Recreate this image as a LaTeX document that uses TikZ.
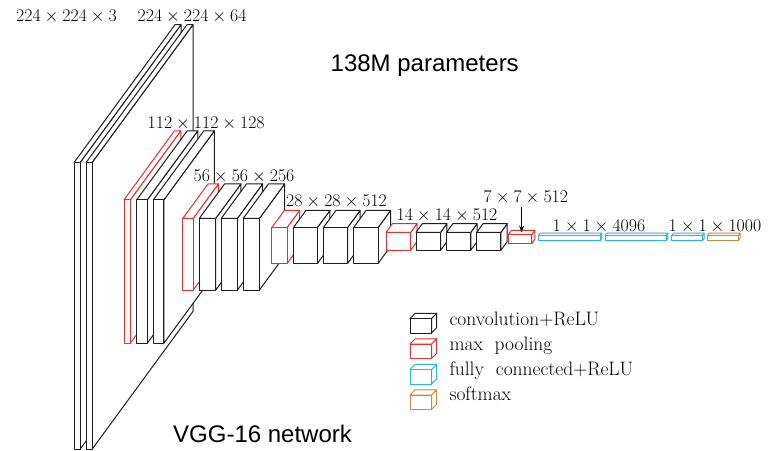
\RequirePackage{fix-cm}
\documentclass[tikz,border=0pt]{standalone}
\usepackage{fontspec}
\newfontfamily\capsans{Liberation Sans}
\usetikzlibrary{arrows.meta,calc}

\definecolor{poolred}{RGB}{235,45,45}
\definecolor{fccyan}{RGB}{40,180,230}
\definecolor{smorange}{RGB}{200,140,60}
\definecolor{edge}{RGB}{30,30,30}

\tikzset{
  layer/.style={draw=#1, fill=white, line width=1pt, line join=round},
  dimlabel/.style={inner sep=0pt, anchor=base west, font=\fontsize{17.8}{21}\selectfont},
  legendtext/.style={inner sep=0pt, anchor=base west, font=\fontsize{19.5}{23}\selectfont},
  bigcaption/.style={inner sep=0pt, anchor=base west, font=\capsans\fontsize{24}{28}\selectfont},
}

% One layer as a cuboid: #1 left x of the front face, #2 width (channels),
% #3 spatial size (height and depth), #4 colour, #5 name of the top-face centre.
\newcommand\layerbox[5]{%
  \pgfmathsetmacro\lbTop{237-0.332*#3}%
  \pgfmathsetmacro\lbBot{237+0.948*#3}%
  \pgfmathsetmacro\lbDx{0.451*#3}%
  \pgfmathsetmacro\lbDy{-0.616*#3}%
  \pgfmathsetmacro\lbR{#1+#2}%
  \draw[layer=#4] (\lbR,\lbBot) -- ({\lbR+\lbDx},{\lbBot+\lbDy})
     -- ({\lbR+\lbDx},{\lbTop+\lbDy}) -- (\lbR,\lbTop) -- cycle;
  \draw[layer=#4] (#1,\lbTop) -- (\lbR,\lbTop) -- ({\lbR+\lbDx},{\lbTop+\lbDy})
     -- ({#1+\lbDx},{\lbTop+\lbDy}) -- cycle;
  \draw[layer=#4] (#1,\lbTop) rectangle (\lbR,\lbBot);
  \coordinate (#5) at ({#1+#2/2+\lbDx/2},{\lbTop+\lbDy/2});
}

% Small cuboid used as a legend key: #1 left x, #2 front top y, #3 colour.
\newcommand\keybox[3]{%
  \draw[layer=#3] (#1+21.5,#2+14.5) -- ++(5.2,-5.2) -- ++(0,-14.5) -- (#1+21.5,#2) -- cycle;
  \draw[layer=#3] (#1,#2) -- ++(21.5,0) -- ++(5.2,-5.2) -- ++(-21.5,0) -- cycle;
  \draw[layer=#3] (#1,#2) rectangle ++(21.5,14.5);
}

\begin{document}
\begin{tikzpicture}[x=1pt,y=-1pt]
\useasboundingbox (0,0) rectangle (776,450);

% 224 x 224 convolutions
\layerbox{74}{6}{224}{edge}{c1a}
\layerbox{86}{6}{224}{edge}{c1b}
% 112 x 112
\layerbox{124}{6.3}{112}{poolred}{p1}
\layerbox{136.7}{10.6}{112}{edge}{c2a}
\layerbox{153.3}{10.6}{112}{edge}{c2b}
% 56 x 56
\layerbox{182.8}{10.4}{56}{poolred}{p2}
\layerbox{199.3}{16.4}{56}{edge}{c3a}
\layerbox{221.2}{16.2}{56}{edge}{c3b}
\layerbox{243.2}{16.2}{56}{edge}{c3c}
% 28 x 28
\layerbox{271.7}{15.3}{28}{poolred}{p3}
\layerbox{293.3}{24}{28}{edge}{c4a}
\layerbox{323.3}{24.2}{28}{edge}{c4b}
\layerbox{353.5}{24.5}{28}{edge}{c4c}
% 14 x 14
\layerbox{386}{24.7}{14}{poolred}{p4}
\layerbox{416}{24.6}{14}{edge}{c5a}
\layerbox{446.5}{24.3}{14}{edge}{c5b}
\layerbox{476.7}{24.2}{14}{edge}{c5c}
% 7 x 7
\layerbox{508.3}{23.4}{7}{poolred}{p5}
% fully connected and softmax
\layerbox{538.3}{61.7}{4}{fccyan}{fc1}
\layerbox{605}{61}{4}{fccyan}{fc2}
\layerbox{671.7}{30.7}{4}{fccyan}{fc3}
\layerbox{707.3}{31}{4}{smorange}{sm}

% size labels
\node[dimlabel] (l224in) at (16,21.7) {$224\times224\times3$};
\node[dimlabel] (l224) at (137.5,21.7) {$224\times224\times64$};
\node[dimlabel] (l112) at (147.5,128) {$112\times112\times128$};
\node[dimlabel] (l56) at (193.5,181.5) {$56\times56\times256$};
\node[dimlabel] (l28) at (286,206.5) {$28\times28\times512$};
\node[dimlabel] (l14) at (396.5,220) {$14\times14\times512$};
\node[dimlabel] (l7) at (483.5,202) {$7\times7\times512$};
\node[dimlabel] (l4096) at (552.5,231.5) {$1\times1\times4096$};
\node[dimlabel] (l1000) at (668.5,231.5) {$1\times1\times1000$};

\coordinate (arrstart) at ($(l7.south -| p5)+(0,3)$);
\draw[line width=1pt, -{Stealth[length=7pt,width=5pt]}] (arrstart) -- (p5);

% captions
\node[bigcaption] (params) at (330.5,71) {138M parameters};
\node[bigcaption] (title) at (173,442) {VGG-16 network};

% legend
\keybox{410}{318.5}{edge}
\keybox{410}{344}{poolred}
\keybox{410}{369.5}{fccyan}
\keybox{410}{395}{smorange}
\node[legendtext] (kconv) at (449.3,325) {convolution+ReLU};
\node[legendtext] (kpool) at (449.3,350.3) {max\ \ pooling};
\node[legendtext] (kfc) at (449.3,375.6) {fully\ \ connected+ReLU};
\node[legendtext] (ksm) at (449.3,400.8) {softmax};
\end{tikzpicture}
\end{document}
